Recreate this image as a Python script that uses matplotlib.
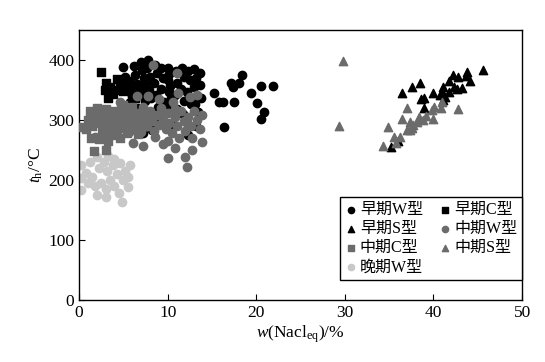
import matplotlib
matplotlib.use("Agg")
import matplotlib.pyplot as plt

plt.rcParams["font.family"] = ["Liberation Serif", "Noto Sans CJK SC"]
plt.rcParams["mathtext.fontset"] = "custom"
plt.rcParams["mathtext.rm"] = "Liberation Serif"
plt.rcParams["mathtext.it"] = "Liberation Serif:italic"

# early W type (black circles)
ew_x = [5.0, 5.2, 5.5, 5.8, 6.2, 6.3, 6.5, 6.0, 6.6, 7.0, 7.1, 7.3, 7.0, 7.2, 7.4, 7.0,
        7.8, 7.7, 8.0, 7.9, 8.1, 8.6, 8.8, 8.5, 8.7, 8.9, 9.3, 9.5, 9.2, 9.6,
        10.0, 10.2, 10.0, 10.3, 10.1, 10.4, 10.2, 10.9, 11.0, 10.8, 11.1,
        11.6, 11.8, 11.5, 11.9, 11.7, 12.3, 12.5, 12.2, 12.6,
        13.0, 13.2, 13.0, 13.3, 13.1, 13.4, 13.6, 13.7, 13.8,
        7.2, 8.2, 12.3, 10.5, 13.2, 9.0,
        15.2, 15.8, 16.3, 17.2, 17.4, 18.1, 18.4, 17.5, 16.4, 19.4, 20.1, 20.5, 20.9, 20.5, 21.9]
ew_y = [388, 372, 350, 330, 390, 375, 360, 340, 320, 396, 384, 370, 358, 345, 332, 312,
        400, 386, 372, 350, 336, 392, 378, 362, 342, 322, 386, 370, 352, 330,
        386, 376, 366, 356, 346, 336, 324, 382, 362, 342, 318,
        386, 372, 352, 332, 310, 382, 366, 346, 326,
        385, 370, 355, 340, 326, 314, 378, 358, 336,
        278, 283, 275, 292, 290, 300,
        345, 330, 330, 362, 355, 362, 375, 330, 288, 345, 328, 357, 313, 302, 357]

# early C type (black squares)
ec_x = [2.5, 3.0, 3.3, 3.5, 4.0, 4.6, 5.0, 5.5, 6.0, 6.5, 7.0, 4.3, 5.8, 3.8, 2.9, 6.3, 7.5]
ec_y = [380, 362, 336, 355, 350, 361, 348, 356, 346, 352, 342, 368, 365, 343, 350, 336, 356]

# early S type (black triangles)
es_x = [45.6, 43.8, 43.7, 44.1, 42.2, 42.8, 41.8, 42.3, 42.7, 43.2, 41.1, 41.8, 41.0,
        40.7, 40.0, 38.5, 37.6, 36.5, 38.6, 38.9, 38.9, 41.1, 41.3, 35.2, 36.0]
es_y = [383, 380, 373, 365, 375, 372, 365, 355, 352, 353, 355, 347, 347,
        342, 345, 362, 355, 345, 335, 337, 320, 333, 338, 255, 265]

# middle W type (grey circles)
mw_x = [8.4, 11.0, 13.3, 1.8, 6.1, 7.2, 9.5, 10.0, 10.8, 12.0, 12.2, 12.8, 13.9, 4.6,
        4.0, 4.5, 5.0, 5.3, 5.6, 5.8, 6.0, 6.3, 6.5, 6.8, 7.0, 7.2, 7.5, 7.7, 8.0, 8.2,
        8.5, 8.8, 9.0, 9.2, 9.5, 9.8, 10.0, 10.2, 10.5, 10.8, 11.0, 11.3, 11.5, 11.8,
        12.0, 12.3, 12.6, 12.8, 13.0, 13.3, 13.6, 13.9, 9.0, 10.6, 12.5, 7.8, 6.5,
        11.2, 8.6, 10.0, 3.5, 5.5, 6.8, 8.0, 9.4, 10.8, 12.2]
mw_y = [392, 378, 342, 272, 262, 257, 260, 237, 253, 238, 222, 250, 263, 330,
        300, 285, 310, 295, 280, 320, 300, 288, 312, 296, 280, 322, 305, 290, 315, 298,
        282, 308, 292, 320, 300, 285, 312, 295, 278, 305, 290, 270, 315, 298,
        282, 305, 290, 270, 315, 300, 285, 308, 335, 330, 338, 340, 340,
        345, 272, 265, 280, 305, 305, 300, 310, 318, 295]

# middle C type (grey squares)
mc_x = [0.3, 1.0, 1.2, 1.5, 1.8, 2.0, 2.2, 2.5, 2.6, 2.8, 3.0, 3.2, 3.5, 3.6, 3.8,
        4.0, 4.2, 4.5, 4.7, 4.9, 5.2, 5.4, 5.6, 5.9, 6.1, 6.4, 6.6, 6.9, 7.2, 1.4,
        2.3, 3.3, 4.6, 1.7, 3.0, 5.0, 6.0, 7.5, 8.0, 0.8]
mc_y = [288, 300, 315, 290, 305, 320, 295, 310, 280, 300, 318, 290, 305, 275, 295,
        315, 285, 300, 320, 290, 308, 278, 296, 312, 288, 302, 276, 295, 310, 270,
        268, 265, 270, 248, 250, 325, 322, 290, 305, 285]

# middle S type (grey triangles)
ms_x = [29.8, 29.3, 34.9, 34.3, 35.5, 36.2, 35.8, 36.5, 37.0, 37.3, 37.0, 37.6, 38.1,
        38.4, 38.8, 39.2, 39.8, 40.1, 40.0, 40.8, 41.0, 42.8, 37.7, 37.3]
ms_y = [398, 290, 288, 257, 272, 272, 262, 302, 320, 297, 283, 287, 297,
        305, 300, 307, 317, 322, 302, 320, 330, 318, 292, 283]

# late W type (light grey circles)
lw_x = [0.2, 0.2, 0.2, 0.8, 1.2, 1.5, 1.8, 2.0, 2.2, 2.5, 2.8, 3.0, 3.2, 3.5, 3.3,
        3.8, 4.0, 4.3, 4.5, 4.6, 5.0, 5.2, 5.5, 5.7, 4.8, 2.0, 3.0, 1.0, 4.0, 5.5]
lw_y = [225, 203, 183, 212, 230, 205, 190, 238, 220, 195, 230, 185, 215, 200, 240,
        225, 190, 210, 178, 228, 200, 215, 188, 225, 163, 175, 172, 195, 235, 205]

BLACK = "#000000"
GREY = "#6b6b6b"
LIGHT = "#c8c8c8"

fig = plt.figure(figsize=(5.45, 3.62), dpi=100)
ax = fig.add_axes([0.145, 0.171, 0.813, 0.746])

s = 36
ax.scatter(lw_x, lw_y, s=s, marker="o", color=LIGHT, label="晚期W型", zorder=2)
ax.scatter(ew_x, ew_y, s=s, marker="o", color=BLACK, label="早期W型", zorder=3)
ax.scatter(ec_x, ec_y, s=s, marker="s", color=BLACK, label="早期C型", zorder=3)
ax.scatter(es_x, es_y, s=s, marker="^", color=BLACK, label="早期S型", zorder=3)
ax.scatter(mc_x, mc_y, s=s, marker="s", color=GREY, label="中期C型", zorder=4)
ax.scatter(mw_x, mw_y, s=s, marker="o", color=GREY, label="中期W型", zorder=4)
ax.scatter(ms_x, ms_y, s=s, marker="^", color=GREY, label="中期S型", zorder=4)

ax.set_xlim(0, 50)
ax.set_ylim(0, 450)
ax.set_xticks([0, 10, 20, 30, 40, 50])
ax.set_yticks([0, 100, 200, 300, 400])
ax.tick_params(direction="in", length=4, labelsize=12.5, top=False, right=False)
for sp in ax.spines.values():
    sp.set_linewidth(1.0)

ax.set_xlabel(r"$w$(Nacl$_{\mathrm{eq}}$)/%", fontsize=12.5, labelpad=2)
ax.set_ylabel(r"$t_{\mathrm{h}}$/°C", fontsize=12.5, labelpad=2)

handles, labels = ax.get_legend_handles_labels()
hmap = dict(zip(labels, handles))
# column-wise fill so rows read: 早期W 早期C / 早期S 中期W / 中期C 中期S / 晚期W
order = ["早期W型", "早期S型", "中期C型", "晚期W型", "早期C型", "中期W型", "中期S型"]
leg = ax.legend([hmap[k] for k in order], order, ncol=2, loc="lower right",
                bbox_to_anchor=(1.0, 0.074), fontsize=11.5, markerscale=0.75,
                handletextpad=0.15, columnspacing=1.0, labelspacing=0.2,
                handlelength=0.8, borderpad=0.3, fancybox=False, framealpha=1,
                borderaxespad=0)
leg.get_frame().set_edgecolor("black")
leg.get_frame().set_linewidth(1.0)

fig.savefig("out.png", dpi=100)
